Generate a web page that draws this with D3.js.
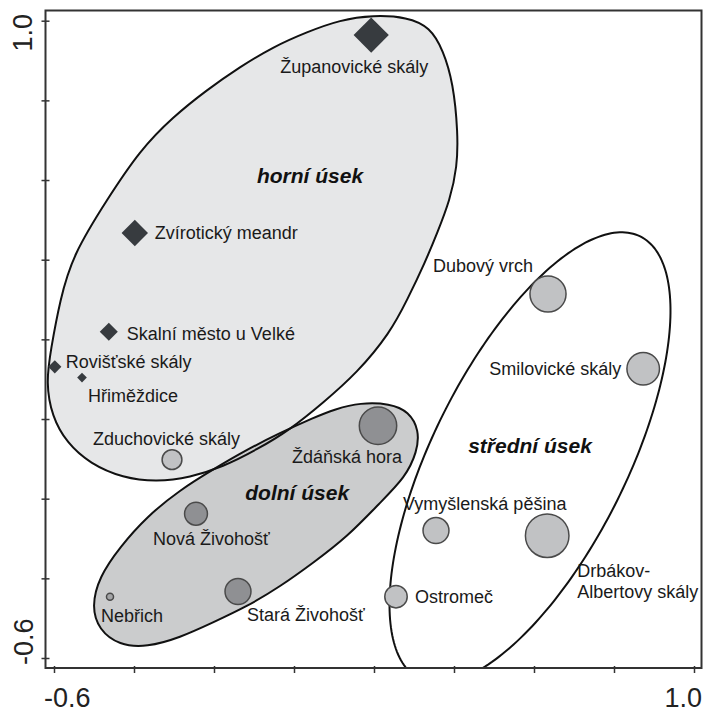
<!DOCTYPE html>
<html>
<head>
<meta charset="utf-8">
<script src="https://cdn.jsdelivr.net/npm/d3@7/dist/d3.min.js"></script>
<style>
  html, body { margin: 0; padding: 0; background: #fff; }
  svg { display: block; font-family: "Liberation Sans", Arial, sans-serif; }
</style>
</head>
<body>
<svg id="chart" width="705" height="713"></svg>
<script>
// Ordination of sites (first two axes), marker size = relative weight
const siteNames = [
  "Županovické skály", "Zvírotický meandr", "Skalní město u Velké", "Rovišťské skály",
  "Hřiměždice", "Zduchovické skály", "Ždáňská hora", "Nová Živohošť", "Stará Živohošť",
  "Nebřich", "Dubový vrch", "Smilovické skály", "Vymyšlenská pěšina",
  "Drbákov-|Albertovy skály", "Ostromeč"
];
const axis1 = [0.193, -0.398, -0.463, -0.598, -0.530, -0.305, 0.210, -0.245, -0.140, -0.460, 0.635, 0.873, 0.355, 0.633, 0.255];
const axis2 = [0.964, 0.467, 0.219, 0.131, 0.104, -0.102, -0.017, -0.238, -0.433, -0.446, 0.314, 0.126, -0.280, -0.293, -0.446];
const weight = [0.80, 0.60, 0.41, 0.30, 0.22, 0.45, 0.85, 0.52, 0.59, 0.16, 0.82, 0.74, 0.59, 0.99, 0.51];
const section = ["horní", "horní", "horní", "horní", "horní", "horní", "dolní", "dolní", "dolní", "dolní",
                 "střední", "střední", "střední", "střední", "střední"];
const markerType = ["diamond", "diamond", "diamond", "diamond", "diamond", "circle", "circle", "circle",
                    "circle", "circle", "circle", "circle", "circle", "circle", "circle"];

// Axis ticks and the tick labels that are printed
const tickValues = [-0.6, -0.4, -0.2, 0.0, 0.2, 0.4, 0.6, 0.8, 1.0];
const xTickLabels = ["-0.6", "1.0"];
const yTickLabels = ["1.0", "-0.6"];

// Group envelopes, in axis units
const horniOutline = [
  [0.198, 1.014], [0.283, 1.009], [0.340, 0.984], [0.373, 0.926], [0.398, 0.844], [0.410, 0.718],
  [0.408, 0.633], [0.390, 0.550], [0.358, 0.467], [0.328, 0.394], [0.283, 0.299], [0.240, 0.216],
  [0.158, 0.116], [0.073, 0.041], [-0.010, -0.027], [-0.093, -0.077], [-0.178, -0.120],
  [-0.260, -0.147], [-0.343, -0.158], [-0.428, -0.148], [-0.510, -0.112], [-0.568, -0.060],
  [-0.605, 0.006], [-0.620, 0.091], [-0.608, 0.174], [-0.585, 0.299], [-0.553, 0.412],
  [-0.468, 0.550], [-0.385, 0.675], [-0.303, 0.758], [-0.218, 0.826], [-0.135, 0.884],
  [-0.053, 0.934], [0.033, 0.972], [0.115, 1.002]
];
const dolniOutline = [
  [0.165, 0.041], [0.240, 0.039], [0.287, 0.019], [0.313, -0.028], [0.308, -0.082], [0.278, -0.147],
  [0.215, -0.210], [0.133, -0.296], [0.048, -0.361], [-0.035, -0.421], [-0.118, -0.471],
  [-0.203, -0.511], [-0.285, -0.549], [-0.368, -0.573], [-0.437, -0.568], [-0.488, -0.529],
  [-0.506, -0.471], [-0.487, -0.396], [-0.435, -0.321], [-0.368, -0.245], [-0.285, -0.178],
  [-0.203, -0.127], [-0.118, -0.077], [-0.035, -0.035], [0.048, 0.003], [0.103, 0.025]
];
// Middle section drawn as a tilted ellipse (centre, semi-axes, tilt of major axis in degrees)
const stredniEllipse = { cx: 0.59, cy: -0.097, a: 0.62, b: 0.243, tilt: 63.6 };

const groupNames = ["horní úsek", "dolní úsek", "střední úsek"];
const groupLabelAt = [[0.040, 0.592], [0.008, -0.203], [0.590, -0.085]];

// ---- drawing ----
const svg = d3.select("#chart");
const frame = { left: 45.5, top: 10.5, right: 701.5, bottom: 668 };

const x = d3.scaleLinear().domain([-0.6, 1.0]).range([54, 694]);
const y = d3.scaleLinear().domain([-0.6, 1.0]).range([658, 20.7]);
const r = d3.scaleLinear().domain([0, 1]).range([0, 22]);

svg.append("defs").append("clipPath").attr("id", "plotClip")
  .append("rect")
  .attr("x", frame.left).attr("y", frame.top)
  .attr("width", frame.right - frame.left).attr("height", frame.bottom - frame.top);

function ellipsePoints(e, n) {
  const t0 = e.tilt * Math.PI / 180;
  const ux = Math.cos(t0), uy = Math.sin(t0);
  const vx = -Math.sin(t0), vy = Math.cos(t0);
  return d3.range(n).map(i => {
    const t = 2 * Math.PI * i / n;
    const p = e.a * Math.cos(t), q = e.b * Math.sin(t);
    return [e.cx + p * ux + q * vx, e.cy + p * uy + q * vy];
  });
}

const smoothOutline = d3.line()
  .x(d => x(d[0])).y(d => y(d[1]))
  .curve(d3.curveBasisClosed);
const polyOutline = d3.line()
  .x(d => x(d[0])).y(d => y(d[1]))
  .curve(d3.curveLinearClosed);

const hulls = svg.append("g").attr("clip-path", "url(#plotClip)");
const envelopes = [
  { d: smoothOutline(horniOutline), fill: "#e6e7e8" },
  { d: polyOutline(ellipsePoints(stredniEllipse, 240)), fill: "none" },
  { d: smoothOutline(dolniOutline), fill: "#cbcccd" }
];
hulls.selectAll("path.fill").data(envelopes).join("path")
  .attr("class", "fill")
  .attr("d", d => d.d)
  .attr("fill", d => d.fill)
  .attr("stroke", "none");
hulls.selectAll("path.edge").data(envelopes).join("path")
  .attr("class", "edge")
  .attr("d", d => d.d)
  .attr("fill", "none")
  .attr("stroke", "#111")
  .attr("stroke-width", 2);

// Frame
svg.append("rect")
  .attr("x", frame.left).attr("y", frame.top)
  .attr("width", frame.right - frame.left).attr("height", frame.bottom - frame.top)
  .attr("fill", "none").attr("stroke", "#333").attr("stroke-width", 2);

// Axes (ticks only; labels are placed at the ends)
const yAxis = svg.append("g")
  .attr("transform", `translate(${frame.left},0)`)
  .call(d3.axisLeft(y).tickValues(tickValues).tickSize(4).tickFormat(""));
yAxis.select(".domain").remove();
yAxis.selectAll(".tick line").attr("x1", -4).attr("x2", 4).attr("stroke", "#333").attr("stroke-width", 1.5);

const xAxis = svg.append("g")
  .attr("transform", `translate(0,${frame.bottom})`)
  .call(d3.axisBottom(x).tickValues(tickValues).tickSize(5).tickFormat(""));
xAxis.select(".domain").remove();
xAxis.selectAll(".tick line").attr("y1", -2).attr("y2", 5).attr("stroke", "#333").attr("stroke-width", 1.5);

svg.append("text")
  .attr("x", 44).attr("y", 707)
  .attr("font-size", 27).attr("fill", "#222")
  .text(xTickLabels[0]);
svg.append("text")
  .attr("x", 702).attr("y", 707)
  .attr("text-anchor", "end")
  .attr("font-size", 27).attr("fill", "#222")
  .text(xTickLabels[1]);
svg.append("text")
  .attr("transform", "translate(32,14) rotate(-90)")
  .attr("text-anchor", "end")
  .attr("font-size", 27).attr("fill", "#222")
  .text(yTickLabels[0]);
svg.append("text")
  .attr("transform", "translate(33,665) rotate(-90)")
  .attr("text-anchor", "start")
  .attr("font-size", 27).attr("fill", "#222")
  .text(yTickLabels[1]);

// Sites
const sites = siteNames.map((name, i) => ({
  name, sx: axis1[i], sy: axis2[i], w: weight[i], section: section[i], type: markerType[i]
}));

const circleFill = { "horní": "#c1c2c4", "střední": "#c1c2c4", "dolní": "#8f9093" };

const marks = svg.append("g");
marks.selectAll("path.diamond").data(sites.filter(d => d.type === "diamond")).join("path")
  .attr("class", "diamond")
  .attr("transform", d => `translate(${x(d.sx)},${y(d.sy)})`)
  .attr("d", d => { const h = r(d.w); return `M0,${-h}L${h},0L0,${h}L${-h},0Z`; })
  .attr("fill", "#373b3f");
marks.selectAll("circle").data(sites.filter(d => d.type === "circle")).join("circle")
  .attr("cx", d => x(d.sx)).attr("cy", d => y(d.sy))
  .attr("r", d => r(d.w))
  .attr("fill", d => d.name === "Nebřich" ? "#a3a4a6" : circleFill[d.section])
  .attr("stroke", "#4a4a4a").attr("stroke-width", 1.5);

// Label placement relative to each marker (pixels): dx, dy of first baseline, anchor
const labelPlacement = {
  "Županovické skály": [-91, 38, "start"],
  "Zvírotický meandr": [20, 6, "start"],
  "Skalní město u Velké": [18, 8, "start"],
  "Rovišťské skály": [11, 1, "start"],
  "Hřiměždice": [6, 24, "start"],
  "Zduchovické skály": [-79, -15, "start"],
  "Ždáňská hora": [-86, 37, "start"],
  "Nová Živohošť": [-43, 31, "start"],
  "Stará Živohošť": [9, 30, "start"],
  "Nebřich": [-9, 25, "start"],
  "Dubový vrch": [-115, -22, "start"],
  "Smilovické skály": [-22, 6, "end"],
  "Vymyšlenská pěšina": [-33, -21, "start"],
  "Drbákov-|Albertovy skály": [30, 41, "start"],
  "Ostromeč": [19, 6, "start"]
};

const labels = svg.append("g").attr("font-size", 18).attr("fill", "#1a1a1a");
sites.forEach(d => {
  const [dx, dy, anchor] = labelPlacement[d.name];
  const t = labels.append("text")
    .attr("x", x(d.sx) + dx).attr("y", y(d.sy) + dy)
    .attr("text-anchor", anchor);
  d.name.split("|").forEach((line, k) => {
    t.append("tspan").attr("x", x(d.sx) + dx).attr("dy", k === 0 ? 0 : 21).text(line);
  });
});

// Section names
svg.append("g").selectAll("text").data(groupNames).join("text")
  .attr("x", (d, i) => x(groupLabelAt[i][0]))
  .attr("y", (d, i) => y(groupLabelAt[i][1]))
  .attr("text-anchor", "middle")
  .attr("font-size", 21).attr("font-weight", "bold").attr("font-style", "italic")
  .attr("fill", "#111")
  .text(d => d);
</script>
</body>
</html>
